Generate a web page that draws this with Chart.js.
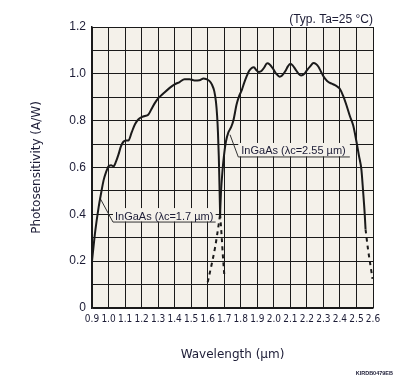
<!DOCTYPE html>
<html><head><meta charset="utf-8">
<script src="https://cdn.jsdelivr.net/npm/chart.js@4.4.1/dist/chart.umd.min.js"></script>
<style>html,body{margin:0;padding:0;background:#fff}</style>
</head><body>
<canvas id="c" width="396" height="380"></canvas>
<script>
// ---- tick values / labels ----
const xTicks = [0.9,1.0,1.1,1.2,1.3,1.4,1.5,1.6,1.7,1.8,1.9,2.0,2.1,2.2,2.3,2.4,2.5,2.6];
const xTickLabels = ["0.9","1.0","1.1","1.2","1.3","1.4","1.5","1.6","1.7","1.8","1.9","2.0","2.1","2.2","2.3","2.4","2.5","2.6"];
const yTicks = [0,0.1,0.2,0.3,0.4,0.5,0.6,0.7,0.8,0.9,1.0,1.1,1.2];
const yTickLabels = ["0","","0.2","","0.4","","0.6","","0.8","","1.0","","1.2"];

// ---- InGaAs λc=1.7 µm ----
const wl17 = [0.90,0.92,0.94,0.955,0.97,0.985,1.0,1.015,1.03,1.045,1.06,1.075,1.09,1.105,1.12,1.14,1.16,1.18,1.2,1.22,1.24,1.26,1.28,1.30,1.33,1.37,1.40,1.43,1.46,1.49,1.52,1.55,1.575,1.59,1.61,1.625,1.64,1.65,1.657,1.662,1.667,1.671,1.675];
const ps17 = [0.20,0.33,0.43,0.49,0.545,0.58,0.605,0.61,0.605,0.625,0.655,0.69,0.71,0.715,0.715,0.75,0.785,0.805,0.815,0.82,0.825,0.85,0.875,0.895,0.915,0.94,0.955,0.965,0.977,0.977,0.972,0.973,0.98,0.978,0.97,0.955,0.925,0.88,0.82,0.75,0.65,0.53,0.40];
const wl17Tail = [1.675,1.685,1.692,1.70];
const ps17Tail = [0.40,0.30,0.22,0.145];

// ---- InGaAs λc=2.55 µm ----
const wl255Head = [1.60,1.625,1.645,1.665,1.675];
const ps255Head = [0.11,0.19,0.26,0.35,0.40];
const wl255 = [1.675,1.68,1.69,1.70,1.71,1.725,1.74,1.755,1.775,1.79,1.806,1.82,1.836,1.85,1.866,1.88,1.895,1.91,1.925,1.94,1.96,1.975,1.995,2.015,2.035,2.05,2.07,2.085,2.10,2.115,2.13,2.15,2.165,2.185,2.20,2.22,2.24,2.255,2.27,2.285,2.30,2.315,2.33,2.35,2.37,2.385,2.40,2.42,2.44,2.46,2.48,2.50,2.515,2.53,2.54,2.55,2.555];
const ps255 = [0.40,0.49,0.59,0.66,0.71,0.75,0.77,0.80,0.87,0.905,0.93,0.96,0.99,1.012,1.025,1.028,1.015,1.008,1.012,1.025,1.045,1.04,1.022,1.0,0.988,0.993,1.012,1.032,1.043,1.035,1.02,1.0,0.993,1.0,1.015,1.032,1.046,1.042,1.03,1.01,0.99,0.975,0.965,0.958,0.952,0.945,0.935,0.905,0.865,0.82,0.78,0.71,0.65,0.59,0.50,0.40,0.335];
const wl255Tail = [2.555,2.57,2.585,2.597];
const ps255Tail = [0.335,0.25,0.18,0.125];

// ---- label leaders (curve point -> underline start -> underline end) ----
const label17 = "InGaAs (\u03BBc=1.7 \u00B5m)";
const lead17X = [0.948,1.027,1.648];
const lead17Y = [0.47,0.367,0.367];
const label255 = "InGaAs (\u03BBc=2.55 \u00B5m)";
const lead255X = [1.735,1.785,2.46];
const lead255Y = [0.74,0.645,0.645];

const header = "(Typ. Ta=25 \u00B0C)";
const docCode = "KIRDB0479EB";

const pts = (xs, ys) => xs.map((x, i) => ({x, y: ys[i]}));
const INK = '#1a1a1a';
const TXT = '#1c1c36';
const PLOT_BG = '#f4f1ea';

const curve = (xs, ys, dash) => ({
  data: pts(xs, ys), borderColor: INK, borderWidth: 2, pointRadius: 0,
  borderDash: dash ? [4, 4] : [], cubicInterpolationMode: 'monotone', fill: false
});
const leader = (xs, ys) => ({
  data: pts(xs, ys), borderColor: '#333', borderWidth: 1, pointRadius: 0, tension: 0, fill: false
});

const LABEL_FONT = '11px "Liberation Sans", Arial, sans-serif';

const deco = {
  id: 'deco',
  beforeDraw(chart) {
    const {ctx, chartArea: a} = chart;
    ctx.save();
    ctx.fillStyle = '#ffffff';
    ctx.fillRect(0, 0, chart.width, chart.height);
    ctx.fillStyle = PLOT_BG;
    ctx.fillRect(a.left, a.top, a.right - a.left, a.bottom - a.top);
    ctx.restore();
  },
  // clear grid behind the two labels before the curves are drawn
  beforeDatasetsDraw(chart) {
    const {ctx} = chart;
    const sx = chart.scales.x, sy = chart.scales.y;
    ctx.save();
    ctx.fillStyle = PLOT_BG;
    [[lead17X, lead17Y], [lead255X, lead255Y]].forEach(([lx, ly]) => {
      const x0 = sx.getPixelForValue(lx[1]);
      const x1 = sx.getPixelForValue(lx[2]);
      const yb = sy.getPixelForValue(ly[1]);
      ctx.fillRect(x0, yb - 14, x1 - x0, 13.5);
    });
    ctx.restore();
  },
  afterDraw(chart) {
    const {ctx, chartArea: a} = chart;
    const sx = chart.scales.x, sy = chart.scales.y;
    ctx.save();
    ctx.fillStyle = TXT;
    ctx.font = LABEL_FONT;
    ctx.textBaseline = 'alphabetic';
    ctx.textAlign = 'left';
    ctx.fillText(label17, sx.getPixelForValue(lead17X[1]) + 2, sy.getPixelForValue(lead17Y[1]) - 2);
    ctx.fillText(label255, sx.getPixelForValue(lead255X[1]) + 3, sy.getPixelForValue(lead255Y[1]) - 3);
    ctx.font = '12px "Liberation Sans", Arial, sans-serif';
    ctx.textAlign = 'right';
    ctx.fillText(header, a.right, 23);
    ctx.font = 'bold 5.5px "Liberation Sans", Arial, sans-serif';
    ctx.fillText(docCode, 393, 375);
    ctx.restore();
  }
};

new Chart(document.getElementById('c'), {
  type: 'line',
  data: {
    datasets: [
      curve(wl17, ps17, false),
      curve(wl17Tail, ps17Tail, true),
      curve(wl255Head, ps255Head, true),
      curve(wl255, ps255, false),
      curve(wl255Tail, ps255Tail, true),
      leader(lead17X, lead17Y),
      leader(lead255X, lead255Y)
    ]
  },
  options: {
    responsive: false,
    animation: false,
    devicePixelRatio: 1,
    layout: {padding: {top: 27, right: 23, bottom: 0, left: 0}},
    plugins: {legend: {display: false}, tooltip: {enabled: false}},
    scales: {
      x: {
        type: 'linear', min: 0.9, max: 2.6,
        afterBuildTicks: s => { s.ticks = xTicks.map(v => ({value: v})); },
        afterFit: s => { s.height = 72; },
        grid: {color: INK, lineWidth: 1, drawTicks: false},
        border: {color: INK, width: 1.5},
        ticks: {
          padding: 5, color: TXT, maxRotation: 0, autoSkip: false,
          font: {family: '"DejaVu Sans Condensed", sans-serif', size: 10},
          callback: (v, i) => xTickLabels[i]
        },
        title: {display: true, text: 'Wavelength (\u00B5m)', color: TXT,
          font: {family: '"DejaVu Sans", sans-serif', size: 12}, padding: {top: 0, bottom: 18}}
      },
      y: {
        type: 'linear', min: 0, max: 1.2,
        afterBuildTicks: s => { s.ticks = yTicks.map(v => ({value: v})); },
        afterFit: s => { s.width = 92; },
        grid: {color: INK, lineWidth: 1, drawTicks: false},
        border: {color: INK, width: 1.5},
        ticks: {
          padding: 6, color: TXT, autoSkip: false,
          font: {family: '"Liberation Sans", Arial, sans-serif', size: 12},
          callback: (v, i) => yTickLabels[i]
        },
        title: {display: true, text: 'Photosensitivity (A/W)', color: TXT,
          font: {family: '"DejaVu Sans", sans-serif', size: 12}, padding: {top: 30, bottom: 0}}
      }
    }
  },
  plugins: [deco]
});
</script>
</body></html>
